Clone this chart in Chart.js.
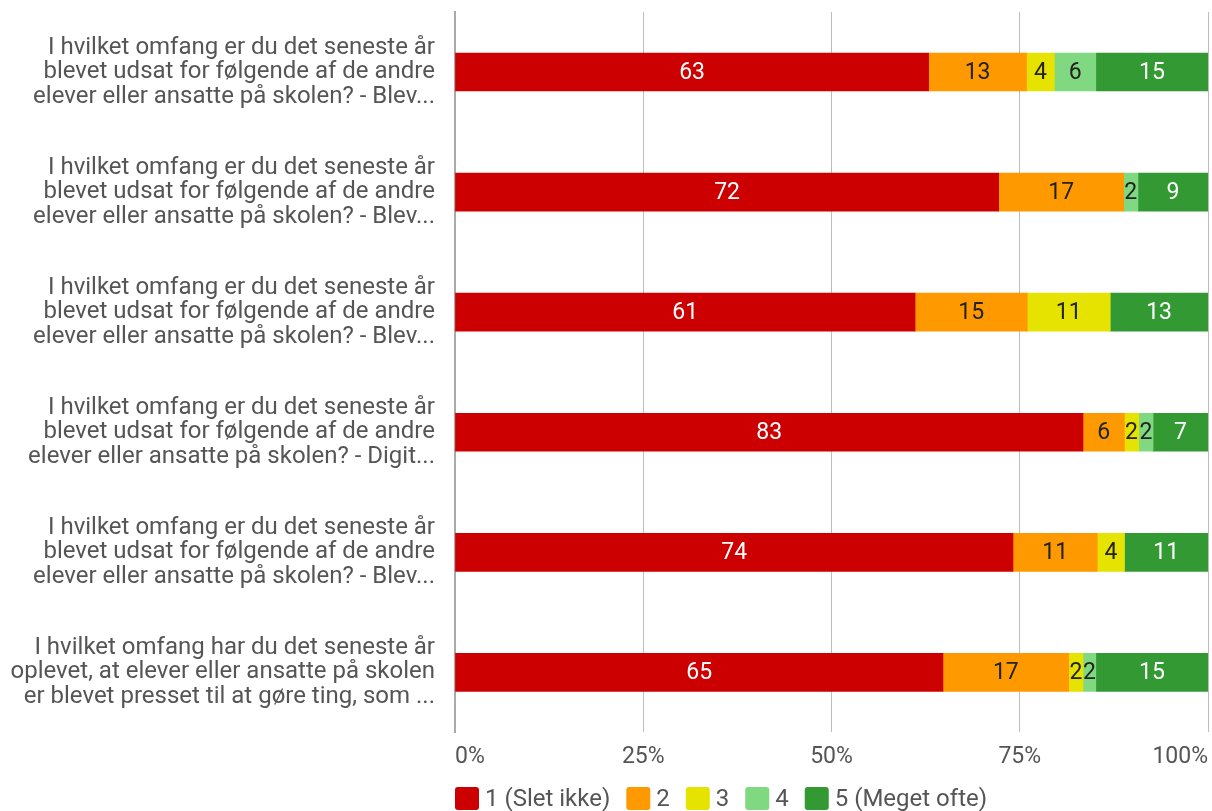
<!DOCTYPE html>
<html>
<head>
<meta charset="utf-8">
<script src="https://cdn.jsdelivr.net/npm/chart.js@4"></script>
<style>
    html, body { margin: 0; padding: 0; background: #fff; }
    #wrap { width: 1212px; height: 811px; position: relative; }
</style>
</head>
<body>
<div id="wrap"><canvas id="surveyChart"></canvas></div>
<script>
const questions = [
    ["I hvilket omfang er du det seneste år", "blevet udsat for følgende af de andre", "elever eller ansatte på skolen? - Blev..."],
    ["I hvilket omfang er du det seneste år", "blevet udsat for følgende af de andre", "elever eller ansatte på skolen? - Blev..."],
    ["I hvilket omfang er du det seneste år", "blevet udsat for følgende af de andre", "elever eller ansatte på skolen? - Blev..."],
    ["I hvilket omfang er du det seneste år", "blevet udsat for følgende af de andre", "elever eller ansatte på skolen? - Digit..."],
    ["I hvilket omfang er du det seneste år", "blevet udsat for følgende af de andre", "elever eller ansatte på skolen? - Blev..."],
    ["I hvilket omfang har du det seneste år", "oplevet, at elever eller ansatte på skolen", "er blevet presset til at gøre ting, som ..."]
];

const answerNames = ["1 (Slet ikke)", "2", "3", "4", "5 (Meget ofte)"];
const answerColors = ["#cc0000", "#ff9900", "#e6e300", "#80d880", "#339933"];
const valueColors = ["#ffffff", "#222222", "#222222", "#222222", "#ffffff"];

// percent of answers per question
const answer1 = [62.9, 72.2, 61.1, 83.4, 74.1, 64.8];
const answer2 = [13.0, 16.6, 14.9, 5.5, 11.2, 16.7];
const answer3 = [3.7, 0, 11.0, 1.9, 3.6, 1.9];
const answer4 = [5.5, 1.9, 0, 1.9, 0, 1.7];
const answer5 = [14.9, 9.3, 13.0, 7.3, 11.1, 14.9];

const xTicks = [0, 25, 50, 75, 100];

const FONT = "Roboto";
const TEXT = "#555555";

const seriesValues = [answer1, answer2, answer3, answer4, answer5];

const valueLabels = {
    id: "valueLabels",
    afterDatasetsDraw(chart) {
        const ctx = chart.ctx;
        ctx.save();
        ctx.font = `23px ${FONT}`;
        ctx.textAlign = "center";
        ctx.textBaseline = "middle";
        chart.data.datasets.forEach((ds, i) => {
            const meta = chart.getDatasetMeta(i);
            meta.data.forEach((bar, j) => {
                const v = ds.data[j];
                if (!v) return;
                const p = bar.getCenterPoint();
                ctx.fillStyle = valueColors[i];
                ctx.fillText(String(Math.round(v)), p.x, p.y + 1);
            });
        });
        ctx.restore();
    }
};

// legend drawn under the x axis, starting at the plot's left edge
const bottomLegend = {
    id: "bottomLegend",
    afterDraw(chart) {
        const ctx = chart.ctx;
        const y = 798.5;
        let x = chart.chartArea.left;
        ctx.save();
        ctx.font = `24px ${FONT}`;
        ctx.textBaseline = "middle";
        ctx.textAlign = "left";
        answerNames.forEach((name, i) => {
            ctx.fillStyle = answerColors[i];
            ctx.beginPath();
            ctx.roundRect(x, y - 11.5, 24, 23, 3);
            ctx.fill();
            x += 24 + 6;
            ctx.fillStyle = TEXT;
            ctx.fillText(name, x, y + 1);
            x += ctx.measureText(name).width + 16;
        });
        ctx.restore();
    }
};

new Chart(document.getElementById("surveyChart"), {
    type: "bar",
    data: {
        labels: questions,
        datasets: answerNames.map((name, i) => ({
            label: name,
            data: seriesValues[i],
            backgroundColor: answerColors[i],
            borderWidth: 0,
            barThickness: 38
        }))
    },
    options: {
        indexAxis: "y",
        responsive: true,
        maintainAspectRatio: false,
        animation: false,
        layout: {padding: {top: 12, right: 4, bottom: 29, left: 0}},
        scales: {
            x: {
                stacked: true,
                min: 0,
                max: 100,
                afterBuildTicks(scale) {
                    scale.ticks = xTicks.map(v => ({value: v}));
                },
                afterFit(scale) {
                    scale.paddingLeft = 0;
                    scale.paddingRight = 0;
                },
                grid: {color: "#bdbdbd", lineWidth: 1, drawTicks: false},
                border: {display: false},
                ticks: {
                    align: "inner",
                    padding: 11,
                    color: TEXT,
                    font: {family: FONT, size: 23},
                    callback: v => v + "%"
                }
            },
            y: {
                stacked: true,
                grid: {display: false, drawTicks: false},
                border: {display: true, color: "#aaaaaa", width: 2},
                afterFit(scale) {
                    scale.width = 455;
                    scale.paddingTop = 0;
                    scale.paddingBottom = 0;
                },
                ticks: {
                    padding: 20,
                    color: TEXT,
                    font: {family: FONT, size: 24, lineHeight: 1.02}
                }
            }
        },
        plugins: {
            legend: {display: false},
            tooltip: {enabled: false}
        }
    },
    plugins: [valueLabels, bottomLegend]
});
</script>
</body>
</html>
